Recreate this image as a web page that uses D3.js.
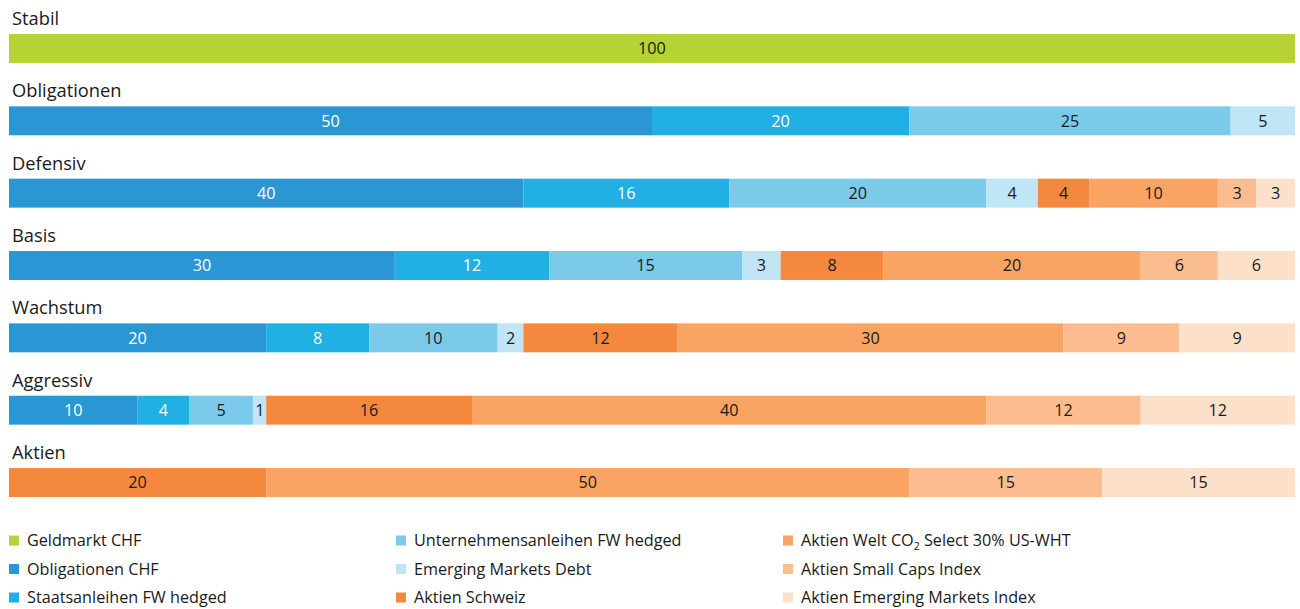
<!DOCTYPE html>
<html><head><meta charset="utf-8">
<script src="https://cdn.jsdelivr.net/npm/d3@7"></script>
<style>body{margin:0;background:#fff}svg{display:block}text{font-family:"Open Sans","Noto Sans",sans-serif}</style>
</head><body>
<svg id="c" width="1300" height="609"></svg>
<script>
const portfolios = ["Stabil","Obligationen","Defensiv","Basis","Wachstum","Aggressiv","Aktien"];
const seriesNames = ["Geldmarkt CHF","Obligationen CHF","Staatsanleihen FW hedged","Unternehmensanleihen FW hedged","Emerging Markets Debt","Aktien Schweiz","Aktien Welt CO2 Select 30% US-WHT","Aktien Small Caps Index","Aktien Emerging Markets Index"];
const colors = ["#b5d334","#2a96d4","#21b0e3","#7bcaea","#c0e6f5","#f5883f","#f9a462","#fbbd8f","#fde0c9"];
const geldmarkt      = [100,0,0,0,0,0,0];
const obligationen   = [0,50,40,30,20,10,0];
const staatsanleihen = [0,20,16,12,8,4,0];
const unternehmen    = [0,25,20,15,10,5,0];
const emDebt         = [0,5,4,3,2,1,0];
const aktienSchweiz  = [0,0,4,8,12,16,20];
const aktienWelt     = [0,0,10,20,30,40,50];
const smallCaps      = [0,0,3,6,9,12,15];
const emIndex        = [0,0,3,6,9,12,15];
const series = [geldmarkt,obligationen,staatsanleihen,unternehmen,emDebt,aktienSchweiz,aktienWelt,smallCaps,emIndex];
const whiteText = [false,true,true,false,false,false,false,false,false];

const svg = d3.select("#c");
const x = d3.scaleLinear().domain([0,100]).range([9,1295]);
const y = d3.scaleBand().domain(portfolios).range([34,497]).paddingInner(0.6).paddingOuter(0);
const rows = svg.selectAll("g.row").data(portfolios).join("g").attr("class","row");
rows.append("text").attr("x",12).attr("y",p=>y(p)-9).attr("font-size",18.3).attr("fill","#1a1a1a").text(p=>p);

portfolios.forEach((p,i)=>{
  let acc=0;
  series.forEach((s,j)=>{
    const v=s[i];
    if(!v) return;
    const x0=x(acc), x1=x(acc+v);
    svg.append("rect").attr("x",x0).attr("y",y(p)).attr("width",x1-x0).attr("height",y.bandwidth()).attr("fill",colors[j]);
    svg.append("text").attr("x",(x0+x1)/2).attr("y",y(p)+y.bandwidth()/2).attr("dy","0.36em")
      .attr("text-anchor","middle").attr("font-size",16.2).attr("fill",whiteText[j]?"#fff":"#1a1a1a").text(v);
    acc+=v;
  });
});

const lg = svg.append("g");
seriesNames.forEach((n,j)=>{
  const col=Math.floor(j/3), row=j%3;
  const gx=9+col*387, gy=540.5+row*28.5;
  lg.append("rect").attr("x",gx).attr("y",gy-5).attr("width",10).attr("height",10).attr("fill",colors[j]);
  const t=lg.append("text").attr("x",gx+18).attr("y",gy).attr("dy","0.36em").attr("font-size",16.2).attr("fill","#1a1a1a");
  if(n.includes("CO2")){
    const parts=n.split("CO2");
    t.append("tspan").text(parts[0]+"CO");
    t.append("tspan").attr("font-size",10.5).attr("dy",4).text("2");
    t.append("tspan").attr("dy",-4).text(parts[1]);
  } else t.text(n);
});
</script>
</body></html>
